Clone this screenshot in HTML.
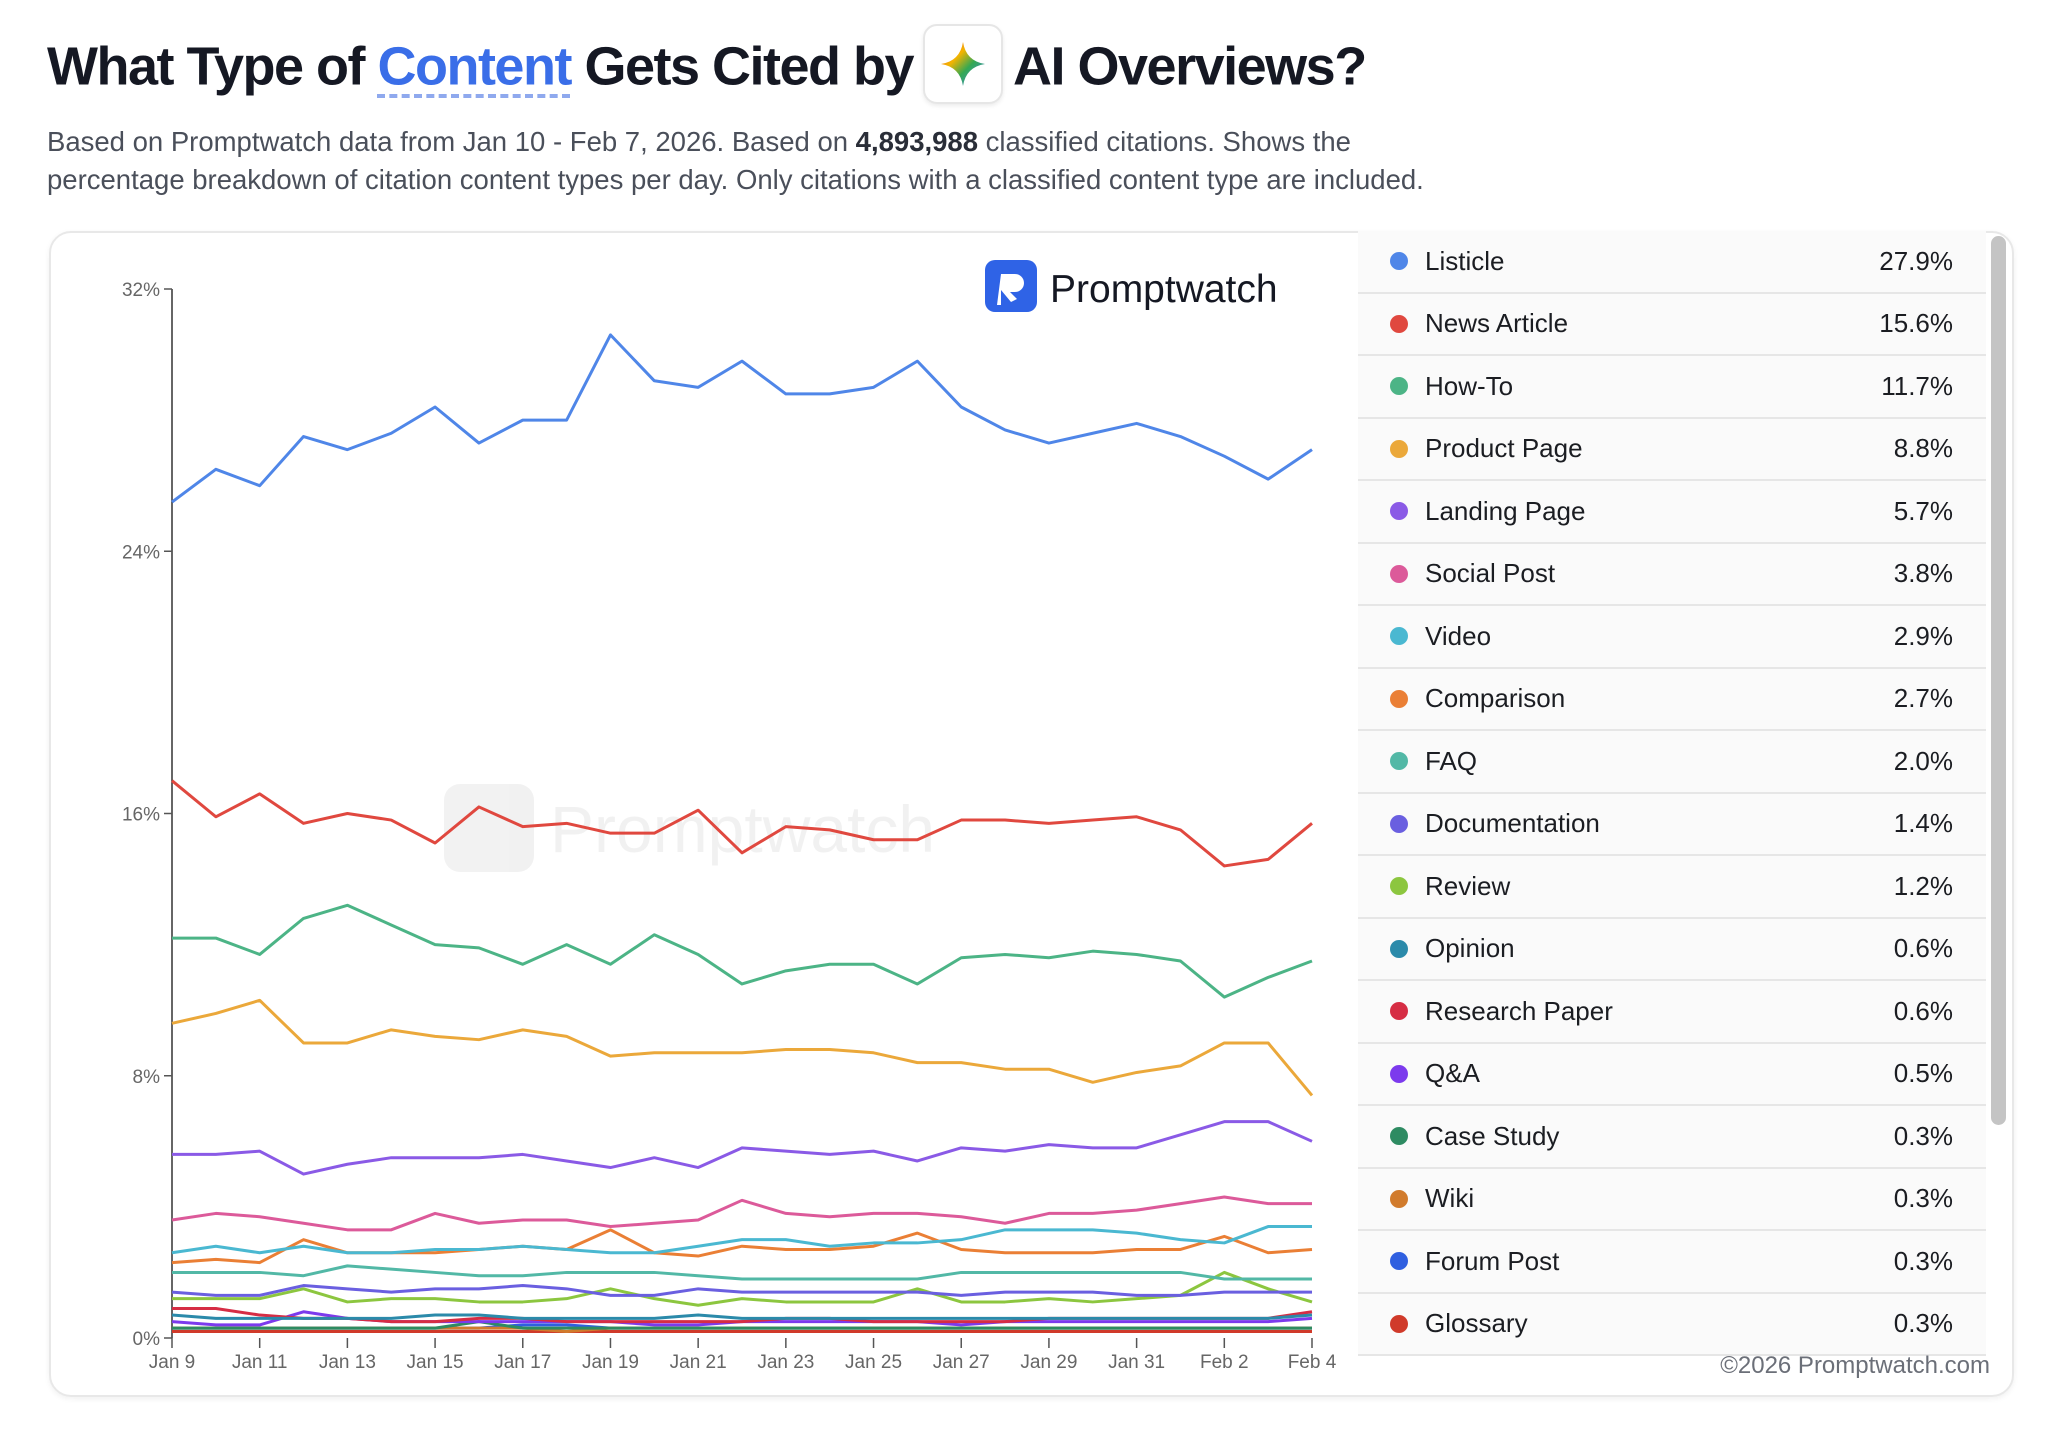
<!DOCTYPE html>
<html><head><meta charset="utf-8"><style>
body{margin:0;width:2048px;height:1449px;background:#fff;font-family:"Liberation Sans",sans-serif;position:relative;overflow:hidden}
.abs{position:absolute}
#title{left:47px;top:30px;font-size:54px;font-weight:bold;color:#151823;letter-spacing:-1.5px;white-space:nowrap}
#title .hl{color:#3a6ee8;text-decoration:underline dashed #8fa9ee;text-underline-offset:10px;text-decoration-thickness:4px}
#gem{display:inline-block;width:76px;height:76px;border:2px solid #e6e6e6;border-radius:14px;vertical-align:middle;margin:0 10px;box-shadow:0 2px 4px rgba(0,0,0,.08);position:relative;top:-6px}
#sub{left:47px;top:123px;font-size:27.5px;line-height:38px;color:#4a4f5a;width:1400px}
#card{left:49px;top:231px;width:1965px;height:1166px;border:2px solid #e8e8e8;border-radius:22px;box-shadow:0 2px 6px rgba(0,0,0,.06);box-sizing:border-box}
#legend{left:1358px;top:231px;width:628px}
.row{height:60.5px;border-bottom:2px solid #e6e6e6;background:#fafafa;display:flex;align-items:center;font-size:26px;color:#1b1d22;position:relative}
.dot{width:18px;height:18px;border-radius:50%;position:absolute;left:32px}
.lab{position:absolute;left:67px}
.val{position:absolute;right:33px}
#scroll{left:1991px;top:236px;width:15px;height:889px;border-radius:8px;background:#c4c4c4}
#copy{right:58px;top:1352px;font-size:24px;color:#6b6f78}
</style></head><body>
<div id="title" class="abs">What Type of <span class="hl">Content</span> Gets Cited by<span id="gem"><svg width="76" height="76" viewBox="0 0 76 76"><defs><linearGradient id="g" x1="0" y1="0" x2="1" y2="1"><stop offset="0" stop-color="#e94c3c"/><stop offset=".35" stop-color="#f4b400"/><stop offset=".6" stop-color="#34a853"/><stop offset="1" stop-color="#4285f4"/></linearGradient></defs><path d="M38 16 Q41 35 60 38 Q41 41 38 60 Q35 41 16 38 Q35 35 38 16Z" fill="url(#g)"/></svg></span>AI Overviews?</div>
<div id="sub" class="abs">Based on Promptwatch data from Jan 10 - Feb 7, 2026. Based on <b style="color:#2a2e38">4,893,988</b> classified citations. Shows the percentage breakdown of citation content types per day. Only citations with a classified content type are included.</div>
<div id="card" class="abs"></div>
<svg class="abs" style="left:0;top:0" width="1360" height="1449" id="chart">
<g opacity="0.05"><rect x="444" y="784" width="90" height="88" rx="16" fill="#000"/><text x="550" y="852" font-size="66" font-family="Liberation Sans" fill="#000">Promptwatch</text></g>
<g><rect x="985" y="260" width="52" height="52" rx="10" fill="#2f63e6"/><path d="M1001 274h14a9 9 0 0 1 0 18h-5l7 7-6 3-10-12v15h-4z" fill="#fff"/><text x="1050" y="302" font-size="39" fill="#151823" font-family="Liberation Sans">Promptwatch</text></g>
<g id="axes"></g><g id="lines"></g>
</svg>
<div id="legend" class="abs"></div>
<div id="scroll" class="abs"></div>
<div id="copy" class="abs">©2026 Promptwatch.com</div>
<script>
const days=["Jan 9","Jan 10","Jan 11","Jan 12","Jan 13","Jan 14","Jan 15","Jan 16","Jan 17","Jan 18","Jan 19","Jan 20","Jan 21","Jan 22","Jan 23","Jan 24","Jan 25","Jan 26","Jan 27","Jan 28","Jan 29","Jan 30","Jan 31","Feb 1","Feb 2","Feb 3","Feb 4"];
const yTicks=[0,8,16,24,32];
const names=["Listicle","News Article","How-To","Product Page","Landing Page","Social Post","Video","Comparison","FAQ","Documentation","Review","Opinion","Research Paper","Q&A","Case Study","Wiki","Forum Post","Glossary"];
const totals=["27.9%","15.6%","11.7%","8.8%","5.7%","3.8%","2.9%","2.7%","2.0%","1.4%","1.2%","0.6%","0.6%","0.5%","0.3%","0.3%","0.3%","0.3%"];
const colors=["#4f86e8","#e0483f","#4cb486","#eba83a","#8a5ae6","#dc5a9a","#4ab8d1","#ea7f35","#52b8a6","#6a5fe0","#8cc63f","#2b8aaa","#d62d44","#7c3aed","#2e8b62","#d17b2c","#2f5fe0","#d03a2a"];
const listicle=[25.5,26.5,26.0,27.5,27.1,27.6,28.4,27.3,28.0,28.0,30.6,29.2,29.0,29.8,28.8,28.8,29.0,29.8,28.4,27.7,27.3,27.6,27.9,27.5,26.9,26.2,27.1];
const news=[17.0,15.9,16.6,15.7,16.0,15.8,15.1,16.2,15.6,15.7,15.4,15.4,16.1,14.8,15.6,15.5,15.2,15.2,15.8,15.8,15.7,15.8,15.9,15.5,14.4,14.6,15.7];
const howto=[12.2,12.2,11.7,12.8,13.2,12.6,12.0,11.9,11.4,12.0,11.4,12.3,11.7,10.8,11.2,11.4,11.4,10.8,11.6,11.7,11.6,11.8,11.7,11.5,10.4,11.0,11.5];
const product=[9.6,9.9,10.3,9.0,9.0,9.4,9.2,9.1,9.4,9.2,8.6,8.7,8.7,8.7,8.8,8.8,8.7,8.4,8.4,8.2,8.2,7.8,8.1,8.3,9.0,9.0,7.4];
const landing=[5.6,5.6,5.7,5.0,5.3,5.5,5.5,5.5,5.6,5.4,5.2,5.5,5.2,5.8,5.7,5.6,5.7,5.4,5.8,5.7,5.9,5.8,5.8,6.2,6.6,6.6,6.0];
const social=[3.6,3.8,3.7,3.5,3.3,3.3,3.8,3.5,3.6,3.6,3.4,3.5,3.6,4.2,3.8,3.7,3.8,3.8,3.7,3.5,3.8,3.8,3.9,4.1,4.3,4.1,4.1];
const video=[2.6,2.8,2.6,2.8,2.6,2.6,2.7,2.7,2.8,2.7,2.6,2.6,2.8,3.0,3.0,2.8,2.9,2.9,3.0,3.3,3.3,3.3,3.2,3.0,2.9,3.4,3.4];
const comparison=[2.3,2.4,2.3,3.0,2.6,2.6,2.6,2.7,2.8,2.7,3.3,2.6,2.5,2.8,2.7,2.7,2.8,3.2,2.7,2.6,2.6,2.6,2.7,2.7,3.1,2.6,2.7];
const faq=[2.0,2.0,2.0,1.9,2.2,2.1,2.0,1.9,1.9,2.0,2.0,2.0,1.9,1.8,1.8,1.8,1.8,1.8,2.0,2.0,2.0,2.0,2.0,2.0,1.8,1.8,1.8];
const documentation=[1.4,1.3,1.3,1.6,1.5,1.4,1.5,1.5,1.6,1.5,1.3,1.3,1.5,1.4,1.4,1.4,1.4,1.4,1.3,1.4,1.4,1.4,1.3,1.3,1.4,1.4,1.4];
const review=[1.2,1.2,1.2,1.5,1.1,1.2,1.2,1.1,1.1,1.2,1.5,1.2,1.0,1.2,1.1,1.1,1.1,1.5,1.1,1.1,1.2,1.1,1.2,1.3,2.0,1.5,1.1];
const opinion=[0.7,0.6,0.6,0.6,0.6,0.6,0.7,0.7,0.6,0.6,0.6,0.6,0.7,0.6,0.6,0.6,0.6,0.6,0.6,0.6,0.6,0.6,0.6,0.6,0.6,0.6,0.7];
const research=[0.9,0.9,0.7,0.6,0.6,0.5,0.5,0.6,0.6,0.5,0.5,0.5,0.5,0.5,0.6,0.6,0.5,0.5,0.5,0.5,0.6,0.6,0.6,0.6,0.6,0.6,0.8];
const qa=[0.5,0.4,0.4,0.8,0.6,0.5,0.5,0.5,0.5,0.5,0.5,0.4,0.4,0.5,0.5,0.5,0.5,0.5,0.4,0.5,0.5,0.5,0.5,0.5,0.5,0.5,0.6];
const caseStudy=[0.3,0.3,0.3,0.3,0.3,0.3,0.3,0.5,0.3,0.3,0.3,0.3,0.3,0.3,0.3,0.3,0.3,0.3,0.3,0.3,0.3,0.3,0.3,0.3,0.3,0.3,0.3];
const wiki=[0.3,0.3,0.3,0.3,0.3,0.3,0.3,0.3,0.3,0.2,0.3,0.3,0.3,0.3,0.3,0.3,0.3,0.3,0.3,0.3,0.3,0.3,0.3,0.3,0.3,0.3,0.3];
const forum=[0.3,0.3,0.3,0.3,0.3,0.3,0.3,0.3,0.4,0.4,0.3,0.3,0.3,0.3,0.3,0.3,0.3,0.3,0.3,0.3,0.3,0.3,0.3,0.3,0.3,0.3,0.3];
const glossary=[0.2,0.2,0.2,0.2,0.2,0.2,0.2,0.2,0.2,0.2,0.2,0.2,0.2,0.2,0.2,0.2,0.2,0.2,0.2,0.2,0.2,0.2,0.2,0.2,0.2,0.2,0.2];
const series=[listicle,news,howto,product,landing,social,video,comparison,faq,documentation,review,opinion,research,qa,caseStudy,wiki,forum,glossary];
const NS="http://www.w3.org/2000/svg";
const X0=172,X1=1312,Y0=1338,Y1=289;
const x=i=>X0+(X1-X0)*i/(days.length-1);
const y=v=>Y0-(Y0-Y1)*v/32;
const axes=document.getElementById('axes'),lines=document.getElementById('lines');
function mk(t,a,p){const e=document.createElementNS(NS,t);for(const k in a)e.setAttribute(k,a[k]);p.appendChild(e);return e;}
let ax=mk('line',{x1:X0,y1:Y1,x2:X0,y2:Y0,stroke:'#333','stroke-width':1.5},axes);


yTicks.forEach(v=>{
 const t=mk('line',{x1:X0-8,x2:X0,y1:y(v),y2:y(v),stroke:'#555','stroke-width':1.5},axes);
 
 
 const l=mk('text',{x:X0-12,y:y(v)+7,'text-anchor':'end','font-size':19,fill:'#666'},axes);
 l.textContent=v+'%';
 
 
});
days.forEach((d,i)=>{
 if(i%2)return;
 const t=mk('line',{x1:x(i),x2:x(i),y1:Y0,y2:Y0+10,stroke:'#555','stroke-width':1.5},axes);
 
 
 const l=mk('text',{x:x(i),y:Y0+30,'text-anchor':'middle','font-size':19,fill:'#666'},axes);
 l.textContent=d;
 
 
});
for(let s=series.length-1;s>=0;s--){
 const p=mk('polyline',{points:series[s].map((v,i)=>x(i)+','+y(v)).join(' '),fill:'none',stroke:colors[s],'stroke-width':3,'stroke-linejoin':'round'},lines);
 
 
}
const lg=document.getElementById('legend');
names.forEach((n,i)=>{
 const r=document.createElement('div');r.className='row';
 
 
 r.innerHTML='<span class="dot" style="background:'+colors[i]+'"></span><span class="lab"></span><span class="val"></span>';
 r.querySelector('.lab').textContent=n;r.querySelector('.val').textContent=totals[i];
 lg.appendChild(r);
});
</script>
</body></html>
